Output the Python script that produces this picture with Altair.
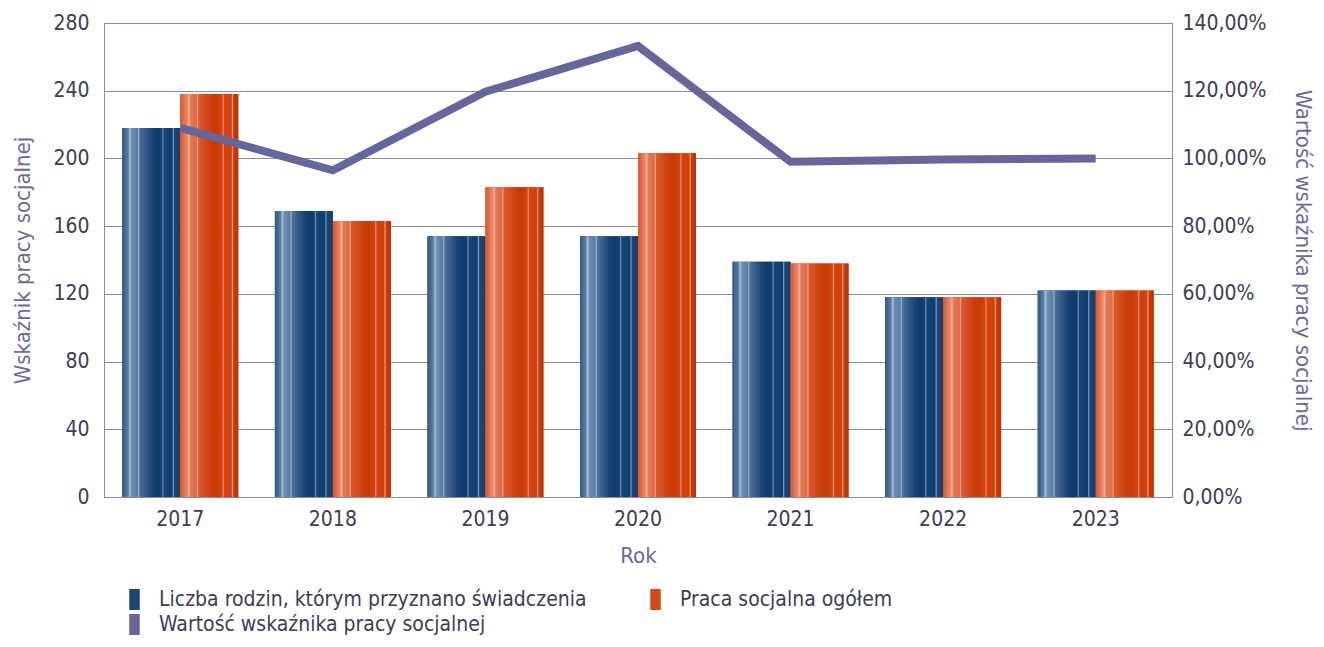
import altair as alt
import pandas as pd

years = ["2017", "2018", "2019", "2020", "2021", "2022", "2023"]
families = [218, 169, 154, 154, 139, 118, 122]
social_work = [238, 163, 183, 203, 138, 118, 122]
ratio = [1.09, 0.965, 1.197, 1.332, 0.99, 0.997, 1.0]

S1 = "Liczba rodzin, którym przyznano świadczenia"
S2 = "Praca socjalna ogółem"
S3 = "Wartość wskaźnika pracy socjalnej"
series_names = [S1, S2, S3]
series_colors = ["#1c4577", "#d24a1a", "#66669a"]

bars = pd.DataFrame(
    {"Rok": years * 2,
     "series": [S1] * len(years) + [S2] * len(years),
     "value": families + social_work}
)
line = pd.DataFrame({"Rok": years, "ratio": ratio})

FONT = "DejaVu Sans Condensed, Open Sans, sans-serif"
GRID = "#8e8aa6"
TXT = "#3d3d55"
TTL = "#6b6b99"

blue_grad = alt.Gradient(
    gradient="linear", x1=0, x2=1, y1=0, y2=0,
    stops=[
        alt.GradientStop(color="#2f5683", offset=0.0),
        alt.GradientStop(color="#5d7ea5", offset=0.10),
        alt.GradientStop(color="#a9c0d8", offset=0.13),
        alt.GradientStop(color="#6f8fb3", offset=0.16),
        alt.GradientStop(color="#5a7ca3", offset=0.26),
        alt.GradientStop(color="#9db5d0", offset=0.28),
        alt.GradientStop(color="#4e709a", offset=0.30),
        alt.GradientStop(color="#1c4577", offset=0.50),
        alt.GradientStop(color="#0e3a6c", offset=0.60),
        alt.GradientStop(color="#12406f", offset=0.68),
        alt.GradientStop(color="#6f90b8", offset=0.70),
        alt.GradientStop(color="#16457a", offset=0.72),
        alt.GradientStop(color="#0f3d72", offset=0.86),
        alt.GradientStop(color="#7e9ec4", offset=0.88),
        alt.GradientStop(color="#1a4576", offset=0.90),
        alt.GradientStop(color="#1c3c66", offset=1.0),
    ],
)
orange_grad = alt.Gradient(
    gradient="linear", x1=0, x2=1, y1=0, y2=0,
    stops=[
        alt.GradientStop(color="#d45a2e", offset=0.0),
        alt.GradientStop(color="#e8876a", offset=0.12),
        alt.GradientStop(color="#f4b095", offset=0.15),
        alt.GradientStop(color="#e27a58", offset=0.18),
        alt.GradientStop(color="#dd6a44", offset=0.28),
        alt.GradientStop(color="#f0a383", offset=0.30),
        alt.GradientStop(color="#d85a30", offset=0.32),
        alt.GradientStop(color="#cc3c0a", offset=0.55),
        alt.GradientStop(color="#c83a06", offset=0.62),
        alt.GradientStop(color="#d44414", offset=0.72),
        alt.GradientStop(color="#f09070", offset=0.74),
        alt.GradientStop(color="#d24210", offset=0.76),
        alt.GradientStop(color="#cf400e", offset=0.88),
        alt.GradientStop(color="#f2a080", offset=0.90),
        alt.GradientStop(color="#cc3e0c", offset=0.92),
        alt.GradientStop(color="#b83200", offset=1.0),
    ],
)

x_enc = alt.X(
    "Rok:N",
    sort=years,
    scale=alt.Scale(paddingInner=0.24, paddingOuter=0.12),
    axis=alt.Axis(title="Rok", labelAngle=0, labelPadding=11, titlePadding=16,
                  ticks=False, domainColor=GRID, grid=False),
)
xoff = alt.XOffset("series:N", scale=alt.Scale(domain=[S1, S2], paddingInner=0, paddingOuter=0))
y_left = alt.Y(
    "value:Q",
    scale=alt.Scale(domain=[0, 280], nice=False),
    axis=alt.Axis(title="Wskaźnik pracy socjalnej", values=list(range(0, 281, 40)),
                  orient="left", ticks=False, labelPadding=15, titlePadding=18,
                  grid=True, gridColor=GRID, domainColor=GRID),
)

base_bars = alt.Chart(bars).mark_bar().encode(
    x=x_enc,
    xOffset=xoff,
    y=y_left,
    color=alt.Color(
        "series:N",
        scale=alt.Scale(domain=series_names, range=series_colors),
        legend=alt.Legend(
            title=None, orient="none", legendX=20, legendY=566, columns=2,
            direction="horizontal",
            symbolType="M-0.5,-1H0.5V1H-0.5Z", symbolSize=441, symbolStrokeWidth=0,
            labelFontSize=21, labelColor=TXT, labelFont=FONT, labelOffset=14,
            columnPadding=58, rowPadding=3, labelLimit=700,
        ),
    ),
)

blue_bars = alt.Chart(bars).transform_filter(alt.datum.series == S1).mark_bar(fill=blue_grad).encode(
    x=x_enc, xOffset=xoff, y=y_left
)
orange_bars = alt.Chart(bars).transform_filter(alt.datum.series == S2).mark_bar(fill=orange_grad).encode(
    x=x_enc, xOffset=xoff, y=y_left
)

left = alt.layer(base_bars, blue_bars, orange_bars)

right = alt.Chart(line).mark_line(color="#66669a", strokeWidth=8).encode(
    x=alt.X("Rok:N", sort=years),
    y=alt.Y(
        "ratio:Q",
        scale=alt.Scale(domain=[0, 1.4], nice=False),
        axis=alt.Axis(title="Wartość wskaźnika pracy socjalnej", orient="right",
                      values=[0, 0.2, 0.4, 0.6, 0.8, 1.0, 1.2, 1.4],
                      labelExpr="replace(format(datum.value, '.2%'), '.', ',')",
                      ticks=False, labelPadding=10, titlePadding=24, grid=False,
                      domainColor=GRID),
    ),
)

chart = (
    alt.layer(left, right)
    .resolve_scale(y="independent")
    .properties(
        width=1068, height=474,
        autosize=alt.AutoSizeParams(type="none"),
        padding={"left": 96, "top": 15, "right": 144, "bottom": 142},
    )
    .configure_view(stroke=GRID, strokeWidth=1)
    .configure_axis(
        labelFont=FONT, titleFont=FONT, labelFontSize=21, titleFontSize=22,
        labelColor=TXT, titleColor=TTL, titleFontWeight="normal",
    )
)

chart.save("out.html", embed_options={"renderer": "svg", "actions": False})
